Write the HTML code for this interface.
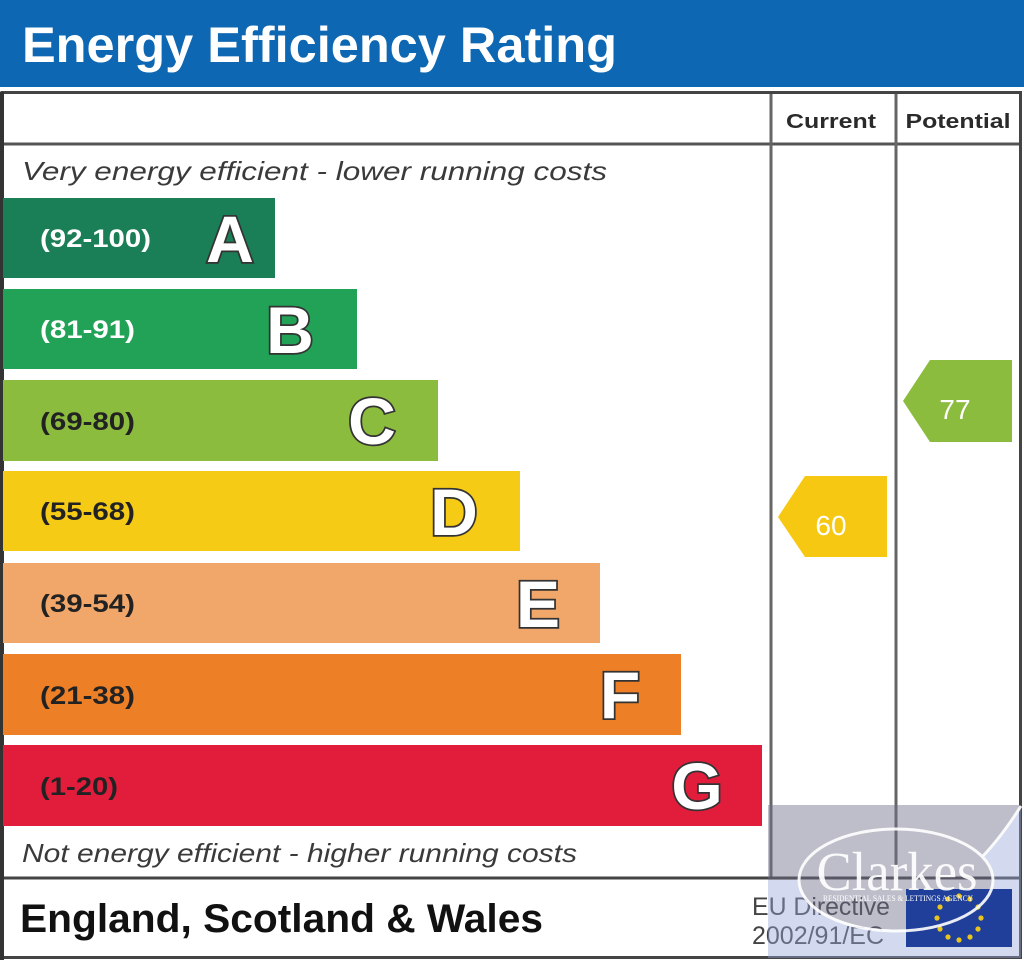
<!DOCTYPE html>
<html><head><meta charset="utf-8"><style>
html,body{margin:0;padding:0;background:#fff;}
svg{display:block;}
</style></head><body>
<svg width="1024" height="960" viewBox="0 0 1024 960" xmlns="http://www.w3.org/2000/svg">
<rect width="1024" height="960" fill="#fff"/>
<!-- header -->
<rect x="0" y="0" width="1024" height="87" fill="#0d67b2"/>
<text x="22" y="62" font-family="Liberation Sans, sans-serif" font-weight="bold" font-size="50" fill="#fff" textLength="595" lengthAdjust="spacingAndGlyphs">Energy Efficiency Rating</text>

<!-- table lines -->
<line x1="3" y1="144" x2="1021" y2="144" stroke="#555" stroke-width="3"/>
<line x1="771" y1="92" x2="771" y2="878" stroke="#666" stroke-width="3"/>
<line x1="896" y1="92" x2="896" y2="878" stroke="#666" stroke-width="3"/>
<line x1="3" y1="878" x2="1021" y2="878" stroke="#444" stroke-width="3"/>
<rect x="2" y="92.5" width="1018.5" height="865" fill="none" stroke="#444" stroke-width="3"/>
<line x1="2" y1="92" x2="2" y2="960" stroke="#333" stroke-width="4"/>

<text x="831" y="128" text-anchor="middle" font-family="Liberation Sans, sans-serif" font-weight="bold" font-size="20" fill="#2a2a2a" textLength="90" lengthAdjust="spacingAndGlyphs">Current</text>
<text x="958" y="128" text-anchor="middle" font-family="Liberation Sans, sans-serif" font-weight="bold" font-size="20" fill="#2a2a2a" textLength="105" lengthAdjust="spacingAndGlyphs">Potential</text>

<text x="22" y="180" font-family="Liberation Sans, sans-serif" font-style="italic" font-size="26" fill="#3a3a3a" textLength="585" lengthAdjust="spacingAndGlyphs">Very energy efficient - lower running costs</text>
<text x="22" y="862" font-family="Liberation Sans, sans-serif" font-style="italic" font-size="26" fill="#3a3a3a" textLength="555" lengthAdjust="spacingAndGlyphs">Not energy efficient - higher running costs</text>

<!-- bars -->
<g font-family="Liberation Sans, sans-serif" font-weight="bold">
<rect x="3" y="198" width="272" height="80" fill="#1a7f56"/>
<text x="40" y="247" font-size="25" fill="#fff" textLength="111" lengthAdjust="spacingAndGlyphs">(92-100)</text>
<text x="230" y="262" text-anchor="middle" font-size="66" fill="#fff" stroke="#333" stroke-width="3.5" paint-order="stroke">A</text>

<rect x="3" y="289" width="354" height="80" fill="#22a257"/>
<text x="40" y="338" font-size="25" fill="#fff" textLength="95" lengthAdjust="spacingAndGlyphs">(81-91)</text>
<text x="290" y="353" text-anchor="middle" font-size="66" fill="#fff" stroke="#333" stroke-width="3.5" paint-order="stroke">B</text>

<rect x="3" y="380" width="435" height="81" fill="#8cbc3e"/>
<text x="40" y="430" font-size="25" fill="#222" textLength="95" lengthAdjust="spacingAndGlyphs">(69-80)</text>
<text x="372" y="444" text-anchor="middle" font-size="66" fill="#fff" stroke="#333" stroke-width="3.5" paint-order="stroke">C</text>

<rect x="3" y="471" width="517" height="80" fill="#f6cb16"/>
<text x="40" y="520" font-size="25" fill="#222" textLength="95" lengthAdjust="spacingAndGlyphs">(55-68)</text>
<text x="454" y="535" text-anchor="middle" font-size="66" fill="#fff" stroke="#333" stroke-width="3.5" paint-order="stroke">D</text>

<rect x="3" y="563" width="597" height="80" fill="#f1a76a"/>
<text x="40" y="612" font-size="25" fill="#222" textLength="95" lengthAdjust="spacingAndGlyphs">(39-54)</text>
<text x="538" y="627" text-anchor="middle" font-size="66" fill="#fff" stroke="#333" stroke-width="3.5" paint-order="stroke">E</text>

<rect x="3" y="654" width="678" height="81" fill="#ed7f27"/>
<text x="40" y="704" font-size="25" fill="#222" textLength="95" lengthAdjust="spacingAndGlyphs">(21-38)</text>
<text x="620" y="718" text-anchor="middle" font-size="66" fill="#fff" stroke="#333" stroke-width="3.5" paint-order="stroke">F</text>

<rect x="3" y="745" width="759" height="81" fill="#e21d3c"/>
<text x="40" y="795" font-size="25" fill="#222" textLength="78" lengthAdjust="spacingAndGlyphs">(1-20)</text>
<text x="697" y="809" text-anchor="middle" font-size="66" fill="#fff" stroke="#333" stroke-width="3.5" paint-order="stroke">G</text>
</g>

<!-- arrows -->
<polygon points="778,517 805,476 887,476 887,557 805,557" fill="#f6c812"/>
<text x="831" y="535" text-anchor="middle" font-family="Liberation Sans, sans-serif" font-size="28" fill="#fff">60</text>
<polygon points="903,401 930,360 1012,360 1012,442 930,442" fill="#8cbc3e"/>
<text x="955" y="419" text-anchor="middle" font-family="Liberation Sans, sans-serif" font-size="28" fill="#fff">77</text>

<!-- footer -->
<text x="20" y="932" font-family="Liberation Sans, sans-serif" font-weight="bold" font-size="40" fill="#111" textLength="523" lengthAdjust="spacingAndGlyphs">England, Scotland &amp; Wales</text>
<text x="752" y="915" font-family="Liberation Sans, sans-serif" font-size="25" fill="#444" textLength="138" lengthAdjust="spacingAndGlyphs">EU Directive</text>
<text x="752" y="944" font-family="Liberation Sans, sans-serif" font-size="25" fill="#444" textLength="132" lengthAdjust="spacingAndGlyphs">2002/91/EC</text>

<!-- watermark tint -->
<path fill-rule="evenodd" d="M768,805 H1021 V958 H768 Z M768,805 H1021 V808 Q1000,838 983,856 A97,51 0 1 1 799,880 L768,880 Z" fill="rgb(150,165,215)" fill-opacity="0.42"/>
<path d="M768,805 H1021 V808 Q1000,838 983,856 A97,51 0 1 1 799,880 L768,880 Z" fill="rgb(110,110,140)" fill-opacity="0.45"/>

<!-- EU flag -->
<rect x="906" y="889" width="106" height="58" fill="#1f3f9a"/>
<g fill="#e8c41c">
<circle cx="959" cy="896" r="2.6"/>
<circle cx="970" cy="899" r="2.6"/>
<circle cx="978" cy="907" r="2.6"/>
<circle cx="981" cy="918" r="2.6"/>
<circle cx="978" cy="929" r="2.6"/>
<circle cx="970" cy="937" r="2.6"/>
<circle cx="959" cy="940" r="2.6"/>
<circle cx="948" cy="937" r="2.6"/>
<circle cx="940" cy="929" r="2.6"/>
<circle cx="937" cy="918" r="2.6"/>
<circle cx="940" cy="907" r="2.6"/>
<circle cx="948" cy="899" r="2.6"/>
</g>

<!-- Clarkes logo -->
<ellipse cx="896" cy="880" rx="97" ry="51" fill="none" stroke="#fff" stroke-width="3" stroke-opacity="0.9"/>
<path d="M983,856 Q1002,836 1021,806" fill="none" stroke="#fff" stroke-width="3" stroke-opacity="0.9"/>
<text x="897" y="890" text-anchor="middle" font-family="Liberation Serif, serif" font-size="55" fill="#fff" fill-opacity="0.92" textLength="161" lengthAdjust="spacingAndGlyphs">Clarkes</text>
<text x="898" y="901" text-anchor="middle" font-family="Liberation Serif, serif" font-size="8" fill="#fff" textLength="150" lengthAdjust="spacingAndGlyphs">RESIDENTIAL SALES &amp; LETTINGS AGENCY</text>
</svg>
</body></html>
